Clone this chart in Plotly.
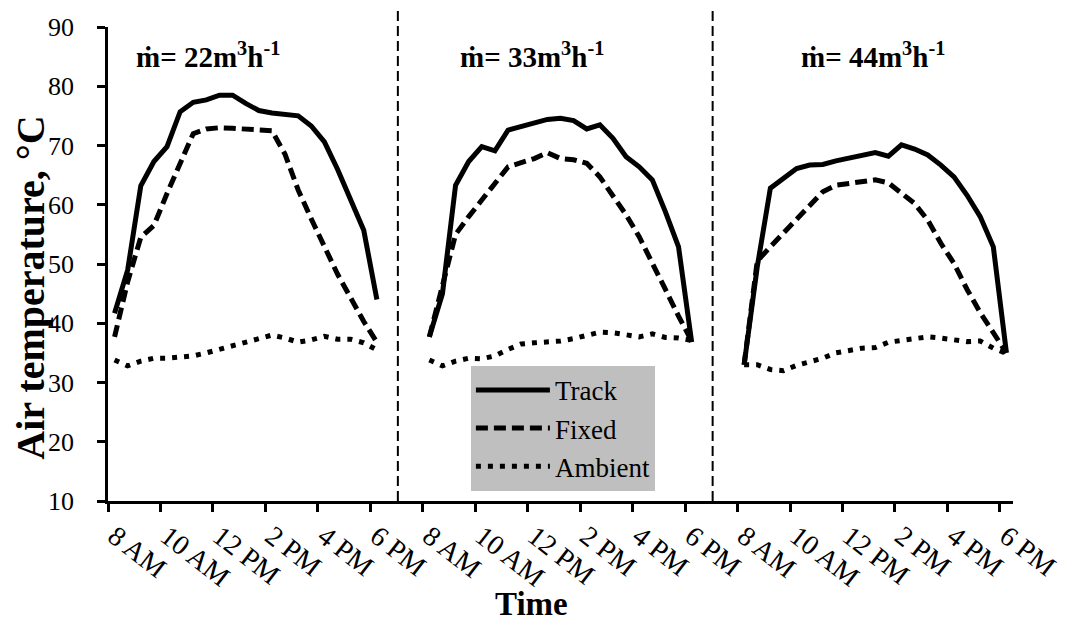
import plotly.graph_objects as go

# ---------------- data ----------------
TICK_LABELS = ["8 AM", "10 AM", "12 PM", "2 PM", "4 PM", "6 PM"]
FLOW_RATES = [22, 33, 44]          # m3/h, one test day each
# 21 half-hourly readings per day: 8:00, 8:30, ..., 18:00
TIMES = ["8:00", "8:30", "9:00", "9:30", "10:00", "10:30", "11:00", "11:30",
         "12:00", "12:30", "13:00", "13:30", "14:00", "14:30", "15:00", "15:30",
         "16:00", "16:30", "17:00", "17:30", "18:00"]

TRACK_22 = [41.7, 49.0, 63.2, 67.3, 69.8, 75.7, 77.3, 77.7, 78.5, 78.5, 77.1,
            75.9, 75.5, 75.2, 75.0, 73.3, 70.6, 66.0, 61.0, 55.7, 44.0]
FIXED_22 = [37.7, 47.0, 54.5, 56.5, 61.9, 67.0, 72.0, 72.8, 73.0, 72.9, 72.8,
            72.7, 72.5, 68.5, 62.5, 57.6, 53.0, 48.3, 44.3, 40.3, 36.8]
AMBIENT_22 = [33.8, 32.8, 33.6, 34.1, 34.1, 34.2, 34.5, 35.0, 35.6, 36.2, 36.7,
              37.4, 38.0, 37.5, 36.8, 37.2, 37.8, 37.3, 37.3, 36.7, 35.5]

TRACK_33 = [37.7, 45.0, 63.3, 67.3, 69.8, 69.1, 72.6, 73.2, 73.7, 74.4, 74.6,
            74.2, 72.8, 73.5, 71.2, 68.1, 66.4, 64.2, 58.8, 52.9, 36.8]
FIXED_33 = [37.7, 46.5, 55.0, 58.0, 60.8, 63.9, 66.4, 67.1, 67.8, 68.8, 67.8,
            67.6, 67.0, 64.7, 61.6, 58.3, 54.6, 50.3, 45.7, 41.2, 37.0]
AMBIENT_33 = [33.8, 32.8, 33.6, 34.1, 34.0, 34.5, 35.6, 36.5, 36.7, 36.8, 37.0,
              37.4, 37.9, 38.5, 38.4, 38.1, 37.7, 38.2, 37.6, 37.5, 37.1]

TRACK_44 = [33.0, 49.5, 62.8, 64.5, 66.1, 66.7, 66.8, 67.4, 67.8, 68.4, 68.8,
            68.2, 70.1, 69.4, 68.4, 66.7, 64.7, 61.6, 58.0, 52.9, 35.0]
FIXED_44 = [33.0, 50.5, 52.9, 55.2, 57.4, 59.7, 62.2, 63.3, 63.6, 64.1, 64.2,
            63.7, 61.9, 60.2, 57.4, 53.5, 50.1, 45.7, 41.8, 38.3, 35.0]
AMBIENT_44 = [33.0, 33.0, 32.2, 32.0, 32.9, 33.5, 34.1, 35.0, 35.5, 35.8, 35.9,
              36.8, 37.1, 37.5, 37.7, 37.5, 37.1, 36.9, 37.0, 35.8, 34.9]

SERIES = {
    "Track": [TRACK_22, TRACK_33, TRACK_44],
    "Fixed": [FIXED_22, FIXED_33, FIXED_44],
    "Ambient": [AMBIENT_22, AMBIENT_33, AMBIENT_44],
}

# ---------------- category layout ----------------
SLOTS_PER_DAY = 24          # 21 readings + 3 empty category slots
N_SLOTS = SLOTS_PER_DAY * (len(FLOW_RATES) - 1) + len(TIMES)   # 69
LABEL_EVERY = 4             # one label every 2 h


def day_xy(days):
    xs, ys = [], []
    for d, vals in enumerate(days):
        xs += [d * SLOTS_PER_DAY + i for i in range(len(vals))] + [None]
        ys += list(vals) + [None]
    return xs, ys


STYLES = {
    "Track": dict(color="black", width=5),
    "Fixed": dict(color="black", width=5, dash="12px,6px"),
    "Ambient": dict(color="black", width=5, dash="5px,7px"),
}

fig = go.Figure()
for name, days in SERIES.items():
    xs, ys = day_xy(days)
    fig.add_trace(go.Scatter(x=xs, y=ys, mode="lines", name=name,
                             line=STYLES[name], connectgaps=False))

label_pos, label_txt = [], []
for d in range(len(FLOW_RATES)):
    for j, lab in enumerate(TICK_LABELS):
        label_pos.append(d * SLOTS_PER_DAY + LABEL_EVERY * j)
        label_txt.append(lab)
boundaries = [p - 0.5 for p in label_pos]

FONT = "'Liberation Serif', 'Times New Roman', Times, serif"

fig.update_xaxes(
    range=[-0.5, N_SLOTS - 0.5], tickmode="array", tickvals=label_pos,
    ticktext=label_txt, tickangle=38, ticks="", ticklabelstandoff=5,
    tickfont=dict(family=FONT, size=28, color="black"),
    showline=True, linewidth=2.5, linecolor="black", showgrid=False,
    zeroline=False, automargin=False,
    minor=dict(tickmode="array", tickvals=boundaries, ticks="outside",
               ticklen=8, tickwidth=2.5, tickcolor="black", showgrid=False),
)
fig.update_yaxes(
    range=[10, 90], tickmode="linear", tick0=10, dtick=10, ticks="outside",
    ticklen=8, tickwidth=2.5, tickcolor="black", ticklabelstandoff=18,
    tickfont=dict(family=FONT, size=26, color="black"),
    showline=True, linewidth=2.5, linecolor="black", showgrid=False,
    zeroline=False, automargin=False,
)

# axis titles (placed where the reference has them)
fig.add_annotation(text="<b>Time</b>", xref="paper", yref="paper",
                   x=0.4685, y=-0.2173, xanchor="center", yanchor="middle",
                   showarrow=False, font=dict(family=FONT, size=33, color="black"))
fig.add_annotation(text="<b>Air temperature, °C</b>", xref="paper", yref="paper",
                   x=-0.0851, y=0.45, xanchor="center", yanchor="middle",
                   textangle=-90, showarrow=False,
                   font=dict(family=FONT, size=40, color="black"))

# dashed separators between the test days
for d in range(1, len(FLOW_RATES)):
    xd = d * SLOTS_PER_DAY - 2.4
    fig.add_shape(type="line", xref="x", yref="paper", x0=xd, x1=xd, y0=0, y1=1.036,
                  line=dict(color="black", width=2, dash="10px,5px"))

# flow-rate captions
TITLE_X = [7.1, 31.8, 57.8]
for rate, xc in zip(FLOW_RATES, TITLE_X):
    fig.add_annotation(x=xc, y=85.3, xref="x", yref="y", showarrow=False,
                       text=f"<b>ṁ= {rate}m<sup>3</sup>h<sup>-1</sup></b>",
                       font=dict(family=FONT, size=29, color="black"))

fig.update_layout(
    width=1065, height=626,
    margin=dict(l=108, r=52, t=27, b=125, autoexpand=False),
    plot_bgcolor="white", paper_bgcolor="white",
    font=dict(family=FONT, color="black"),
    legend=dict(x=0.401, y=0.285, xanchor="left", yanchor="top",
                bgcolor="#BFBFBF", borderwidth=0, itemwidth=74,
                font=dict(family=FONT, size=27, color="black"),
                tracegroupgap=0),
)

fig.write_html("out.html")
